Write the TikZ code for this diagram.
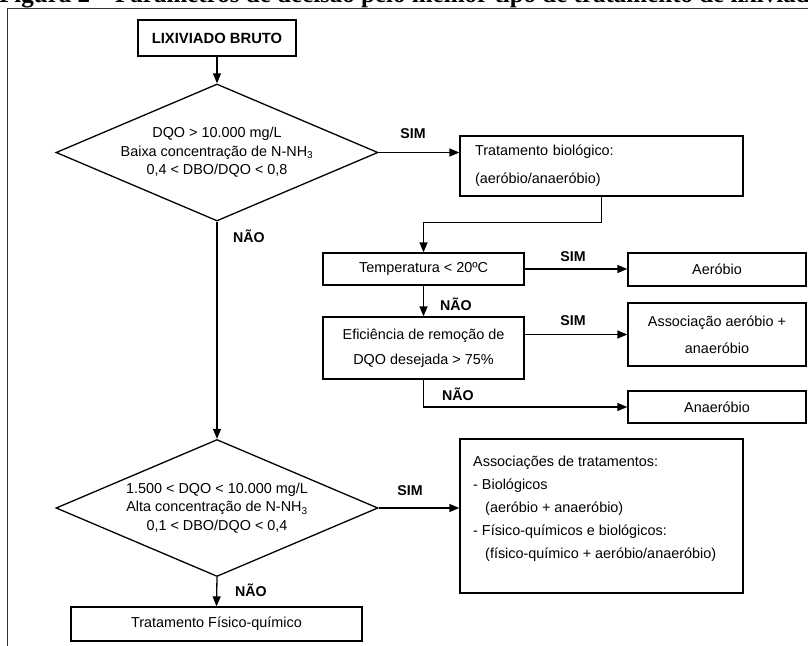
\documentclass[tikz,border=0pt]{standalone}
\usepackage{fontspec}
\setmainfont{Liberation Sans}
\newfontfamily\titlefont{Liberation Serif}
\usetikzlibrary{shapes.geometric,arrows.meta}
\begin{document}
\begin{tikzpicture}[x=1pt,y=-1pt,
  box/.style={draw, line width=1.3pt, rectangle, align=center, inner sep=0pt,
    font=\fontsize{14.4}{17}\selectfont},
  dec/.style={draw, line width=1.3pt, diamond, shape aspect=2.35, inner sep=0pt,
    minimum width=322pt, minimum height=137pt, align=center,
    font=\fontsize{14.4}{18.5}\selectfont},
  lbl/.style={inner sep=0pt, font=\bfseries\fontsize{14.2}{16}\selectfont},
  conn/.style={line width=1.3pt, -{Triangle[length=10pt,width=8pt]}},
  plainline/.style={line width=1.3pt}]
\useasboundingbox (0,0) rectangle (808,645);

% cut title and frame
\node[anchor=base west, inner sep=0pt, font=\titlefont\bfseries\fontsize{25}{30}\selectfont] (title) at (-1,2) {Figura 2 – Parâmetros de decisão pelo melhor tipo de tratamento de lixiviado};
\draw[line width=1pt, black!80] (7.5,650) -- (7.5,8.5) -- (812,8.5);

% nodes
\node[box, minimum width=158pt, minimum height=36pt, font=\bfseries\fontsize{14.8}{17}\selectfont] (lix) at (217,38) {LIXIVIADO BRUTO};

\node[dec] (d1) at (217,152.5) {DQO > 10.000 mg/L\\Baixa concentração de N-NH\textsubscript{3}\\0,4 < DBO/DQO < 0,8};

\node[box, minimum height=60pt, text width=253pt, inner xsep=15pt, align=left,
  font=\fontsize{14.4}{28}\selectfont] (bio) at (601.5,166) {Tratamento biológico:\\(aeróbio/anaeróbio)};

\node[box, minimum width=201pt, minimum height=32pt] (temp) at (423.5,269) {Temperatura < 20ºC};
\node[box, minimum width=178pt, minimum height=33pt] (aer) at (717,269.5) {Aeróbio};

\node[box, minimum width=201pt, minimum height=62pt, font=\fontsize{14.4}{25}\selectfont] (efi) at (423.5,348) {Eficiência de remoção de\\DQO desejada > 75\%};
\node[box, minimum width=178pt, minimum height=63pt, font=\fontsize{14.4}{27}\selectfont] (aa) at (717,334.5) {Associação aeróbio +\\anaeróbio};

\node[box, minimum width=178pt, minimum height=32pt] (ana) at (717,407) {Anaeróbio};

\node[dec] (d2) at (217,508) {1.500 < DQO < 10.000 mg/L\\Alta concentração de N-NH\textsubscript{3}\\0,1 < DBO/DQO < 0,4};

\node[box, minimum width=283pt, minimum height=154pt] (assoc) at (601.5,516) {};
\node[anchor=north west, align=left, inner sep=0pt, font=\fontsize{14.4}{23}\selectfont] (assoctext) at (473,456)
  {Associações de tratamentos:\\
   - Biológicos\\
   \hspace*{12pt}(aeróbio + anaeróbio)\\
   - Físico-químicos e biológicos:\\
   \hspace*{12pt}(físico-químico + aeróbio/anaeróbio)};

\node[box, minimum width=291pt, minimum height=34pt] (fq) at (216.5,624) {Tratamento Físico-químico};

% connectors
\draw[conn] (lix.south) -- (d1.north);
\draw[conn] (d1.east) -- (d1.east -| bio.west);
\draw[conn] (bio.south) -- ++(0,26) -| (temp.north);
\draw[conn] (temp.east) -- (temp.east -| aer.west);
\draw[conn] (temp.south) -- (efi.north);
\draw[conn] (aa.west -| efi.east) -- (aa.west);
\draw[conn] (efi.south) |- (ana.west);
\draw[conn] (d1.south) -- (d2.north);
\draw[conn] (d2.east) -- (d2.east -| assoc.west);
\draw[conn] (d2.south) -- (fq.north);

% labels
\node[lbl] (sim1) at (413,134) {SIM};
\node[lbl, anchor=west] (nao1) at (233,236) {NÃO};
\node[lbl] (sim2) at (573,257) {SIM};
\node[lbl] (nao2) at (456,304) {NÃO};
\node[lbl] (sim3) at (573,321) {SIM};
\node[lbl] (nao3) at (458,394) {NÃO};
\node[lbl] (sim4) at (410,491) {SIM};
\node[lbl, anchor=west] (nao4) at (235,590) {NÃO};
\end{tikzpicture}
\end{document}
